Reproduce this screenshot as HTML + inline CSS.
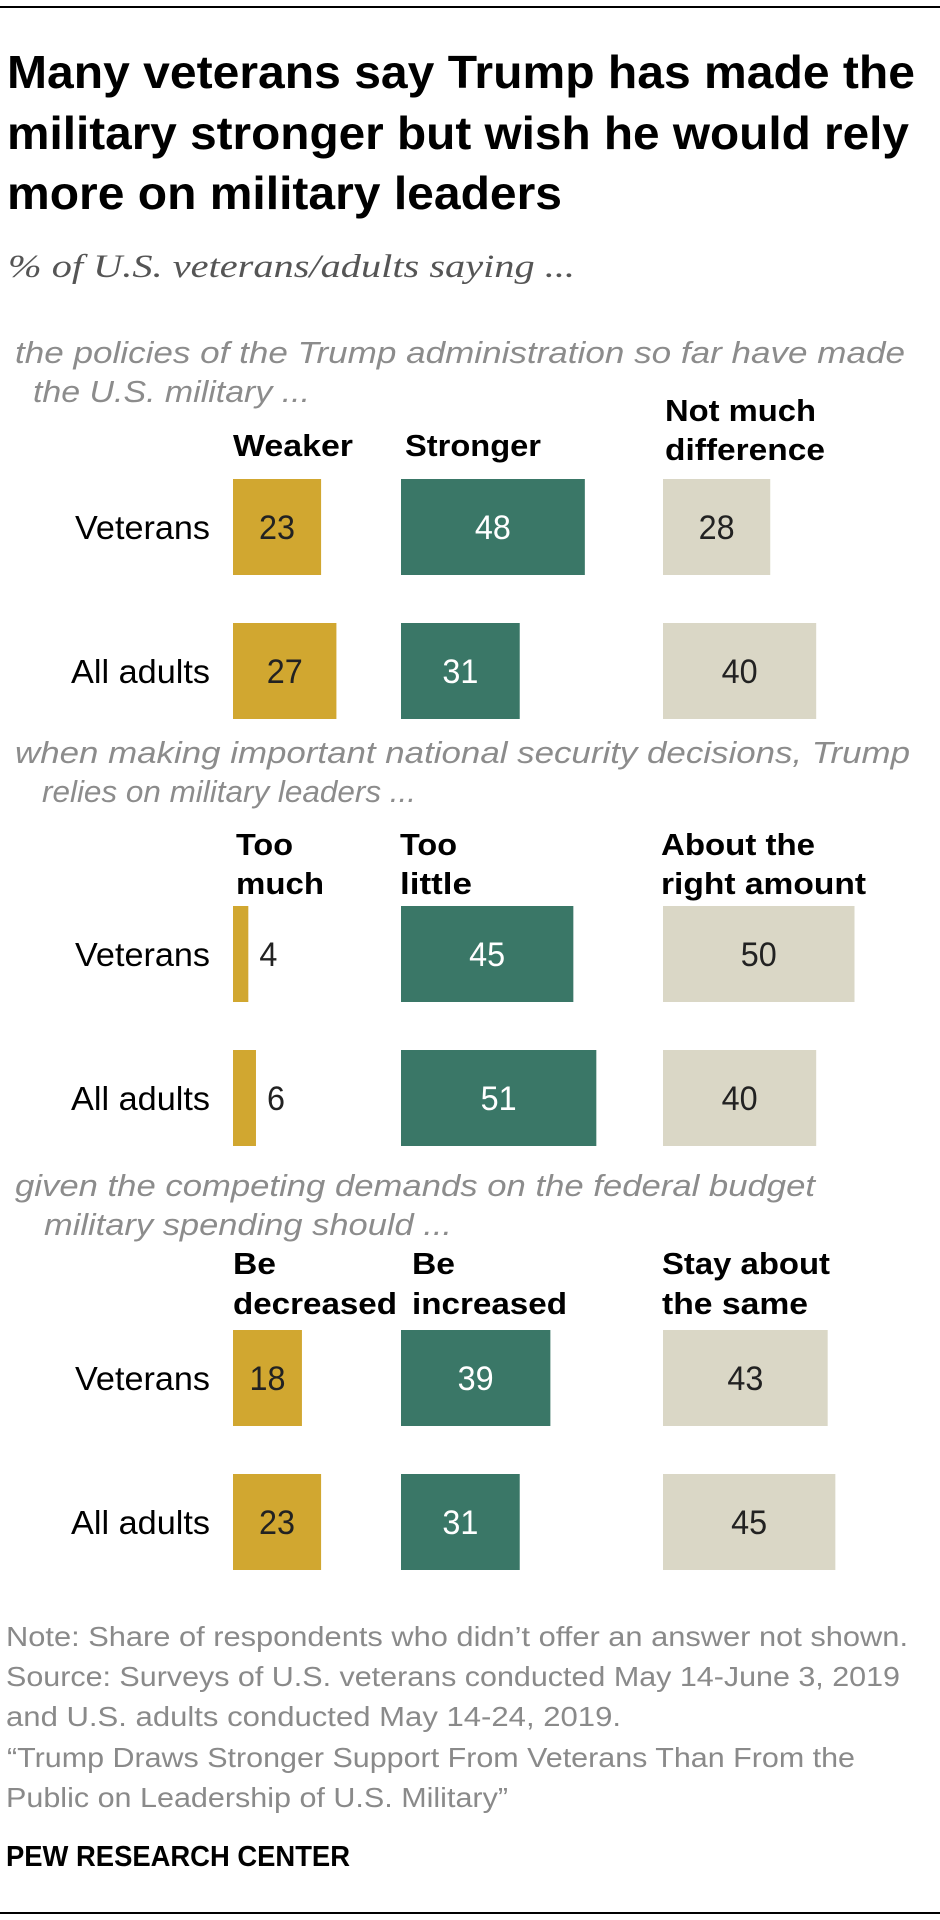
<!DOCTYPE html>
<html><head><meta charset="utf-8"><style>
html,body{margin:0;padding:0;background:#fff;}
svg{display:block;}
.t{font-family:"Liberation Sans",sans-serif;font-weight:bold;fill:#000;}
.sub{font-family:"Liberation Serif",serif;font-style:italic;fill:#555;}
.q{font-family:"Liberation Sans",sans-serif;font-style:italic;fill:#8c8c8c;}
.h{font-family:"Liberation Sans",sans-serif;font-weight:bold;fill:#000;}
.r{font-family:"Liberation Sans",sans-serif;fill:#000;}
.f{font-family:"Liberation Sans",sans-serif;fill:#8a8a8a;}
</style></head><body>
<svg id="chart" width="940" height="1920" viewBox="0 0 940 1920" xmlns="http://www.w3.org/2000/svg">
<line x1="0" y1="7" x2="940" y2="7" stroke="#000" stroke-width="2"/>
<g>
<text class="t" x="7" y="88" font-size="46" textLength="908" lengthAdjust="spacingAndGlyphs">Many veterans say Trump has made the</text>
<text class="t" x="7" y="149" font-size="46" textLength="902" lengthAdjust="spacingAndGlyphs">military stronger but wish he would rely</text>
<text class="t" x="7" y="209" font-size="46" textLength="555" lengthAdjust="spacingAndGlyphs">more on military leaders</text>
</g>
<text class="sub" x="8" y="277" font-size="33" textLength="567" lengthAdjust="spacingAndGlyphs">% of U.S. veterans/adults saying ...</text>

<text class="q" x="15" y="363" font-size="31" textLength="890" lengthAdjust="spacingAndGlyphs">the policies of the Trump administration so far have made</text>
<text class="q" x="33" y="402" font-size="31" textLength="277" lengthAdjust="spacingAndGlyphs">the U.S. military ...</text>
<text class="h" x="233" y="456" font-size="31" textLength="120" lengthAdjust="spacingAndGlyphs">Weaker</text>
<text class="h" x="405" y="456" font-size="31" textLength="136" lengthAdjust="spacingAndGlyphs">Stronger</text>
<text class="h" x="665" y="421" font-size="31" textLength="151" lengthAdjust="spacingAndGlyphs">Not much</text>
<text class="h" x="665" y="460" font-size="31" textLength="160" lengthAdjust="spacingAndGlyphs">difference</text>

<text class="q" x="15" y="763" font-size="31" textLength="895" lengthAdjust="spacingAndGlyphs">when making important national security decisions, Trump</text>
<text class="q" x="42" y="802" font-size="31" textLength="374" lengthAdjust="spacingAndGlyphs">relies on military leaders ...</text>
<text class="h" x="236" y="855" font-size="31" textLength="57" lengthAdjust="spacingAndGlyphs">Too</text>
<text class="h" x="236" y="894" font-size="31" textLength="88" lengthAdjust="spacingAndGlyphs">much</text>
<text class="h" x="400" y="855" font-size="31" textLength="57" lengthAdjust="spacingAndGlyphs">Too</text>
<text class="h" x="400" y="894" font-size="31" textLength="72" lengthAdjust="spacingAndGlyphs">little</text>
<text class="h" x="661" y="855" font-size="31" textLength="154" lengthAdjust="spacingAndGlyphs">About the</text>
<text class="h" x="661" y="894" font-size="31" textLength="205" lengthAdjust="spacingAndGlyphs">right amount</text>

<text class="q" x="15" y="1196" font-size="31" textLength="800" lengthAdjust="spacingAndGlyphs">given the competing demands on the federal budget</text>
<text class="q" x="44" y="1235" font-size="31" textLength="408" lengthAdjust="spacingAndGlyphs">military spending should ...</text>
<text class="h" x="233" y="1274" font-size="31" textLength="43" lengthAdjust="spacingAndGlyphs">Be</text>
<text class="h" x="233" y="1314" font-size="31" textLength="164" lengthAdjust="spacingAndGlyphs">decreased</text>
<text class="h" x="412" y="1274" font-size="31" textLength="43" lengthAdjust="spacingAndGlyphs">Be</text>
<text class="h" x="412" y="1314" font-size="31" textLength="155" lengthAdjust="spacingAndGlyphs">increased</text>
<text class="h" x="662" y="1274" font-size="31" textLength="168" lengthAdjust="spacingAndGlyphs">Stay about</text>
<text class="h" x="662" y="1314" font-size="31" textLength="146" lengthAdjust="spacingAndGlyphs">the same</text>

<g id="bars"></g>

<g>
<text class="f" x="6" y="1646" font-size="28" textLength="902" lengthAdjust="spacingAndGlyphs">Note: Share of respondents who didn’t offer an answer not shown.</text>
<text class="f" x="6" y="1686" font-size="28" textLength="894" lengthAdjust="spacingAndGlyphs">Source: Surveys of U.S. veterans conducted May 14-June 3, 2019</text>
<text class="f" x="6" y="1726" font-size="28" textLength="615" lengthAdjust="spacingAndGlyphs">and U.S. adults conducted May 14-24, 2019.</text>
<text class="f" x="7" y="1767" font-size="28" textLength="848" lengthAdjust="spacingAndGlyphs">“Trump Draws Stronger Support From Veterans Than From the</text>
<text class="f" x="6" y="1807" font-size="28" textLength="502" lengthAdjust="spacingAndGlyphs">Public on Leadership of U.S. Military”</text>
</g>
<text class="t" x="6" y="1866" font-size="29" textLength="344" lengthAdjust="spacingAndGlyphs">PEW RESEARCH CENTER</text>
<line x1="0" y1="1913" x2="940" y2="1913" stroke="#000" stroke-width="2"/>
</svg>
<script>
const rowLabels = ["Veterans", "All adults"];
const s1Weaker = [23, 27];
const s1Stronger = [48, 31];
const s1NoDiff = [28, 40];
const s2TooMuch = [4, 6];
const s2TooLittle = [45, 51];
const s2Right = [50, 40];
const s3Decrease = [18, 23];
const s3Increase = [39, 31];
const s3Same = [43, 45];

const NS = "http://www.w3.org/2000/svg";
const g = document.getElementById("bars");
const xScale = v => v * 3.83;
const colX = [233, 401, 663];
const colors = ["#D1A730", "#3A7767", "#DAD7C6"];
const textColors = ["#222", "#fff", "#222"];
const barH = 96;
const sections = [
  {top: 479, series: [s1Weaker, s1Stronger, s1NoDiff], names: ["weaker", "stronger", "no-difference"]},
  {top: 906, series: [s2TooMuch, s2TooLittle, s2Right], names: ["too-much", "too-little", "right-amount"]},
  {top: 1330, series: [s3Decrease, s3Increase, s3Same], names: ["decreased", "increased", "same"]}
];
const rowGap = 144;

sections.forEach((sec, si) => {
  rowLabels.forEach((lab, ri) => {
    const y = sec.top + ri * rowGap;
    const cy = y + barH / 2 + 12;
    const lt = document.createElementNS(NS, "text");
    lt.setAttribute("x", 210);
    lt.setAttribute("y", cy);
    lt.setAttribute("text-anchor", "end");
    lt.setAttribute("class", "r");
    lt.setAttribute("font-size", "33");
    lt.setAttribute("textLength", ri === 0 ? 135 : 139);
    lt.setAttribute("lengthAdjust", "spacingAndGlyphs");
    lt.textContent = lab;
    
    
    g.appendChild(lt);
    sec.series.forEach((arr, ci) => {
      const v = arr[ri];
      const w = xScale(v);
      const r = document.createElementNS(NS, "rect");
      r.setAttribute("x", colX[ci]);
      r.setAttribute("y", y);
      r.setAttribute("width", w);
      r.setAttribute("height", barH);
      r.setAttribute("fill", colors[ci]);
      
      
      g.appendChild(r);
      const t = document.createElementNS(NS, "text");
      const inside = w > 40;
      t.setAttribute("x", inside ? colX[ci] + w / 2 : colX[ci] + w + 20);
      t.setAttribute("y", cy);
      t.setAttribute("text-anchor", "middle");
      t.setAttribute("class", "r");
      t.setAttribute("font-size", "34");
      t.setAttribute("textLength", String(v).length * 18);
      t.setAttribute("lengthAdjust", "spacingAndGlyphs");
      t.style.fill = inside ? textColors[ci] : "#222";
      t.textContent = v;
      
      
      g.appendChild(t);
    });
  });
});
</script>
</body></html>
